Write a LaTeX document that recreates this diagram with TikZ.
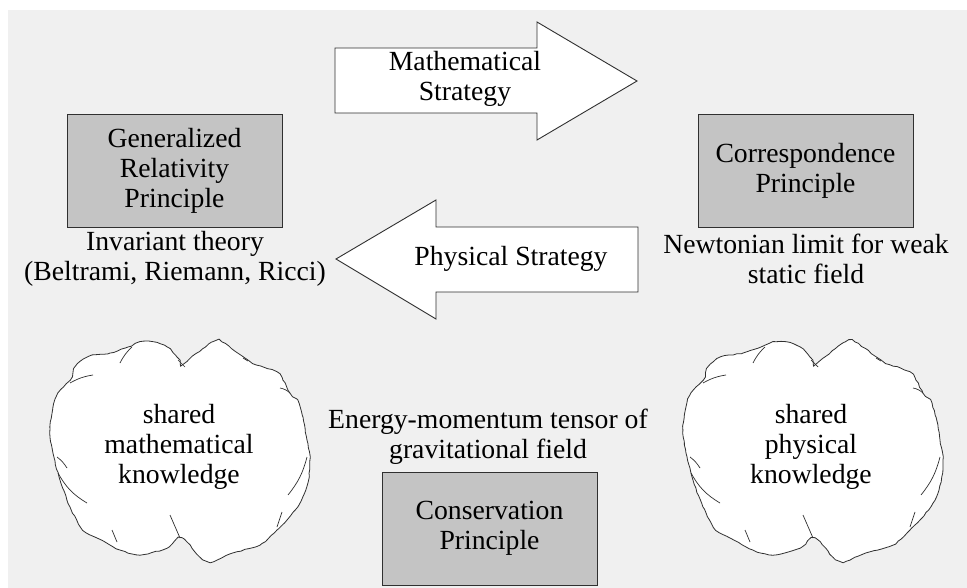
\documentclass[tikz,border=0pt]{standalone}
\usepackage{fontspec}
\setmainfont{Liberation Serif}
\usetikzlibrary{decorations.pathmorphing}
\definecolor{bg}{HTML}{F0F0F0}
\definecolor{boxgray}{HTML}{C4C4C4}
\definecolor{edge}{HTML}{303030}
\tikzset{
  txt/.style={font=\fontsize{27.7}{30}\selectfont, align=center, inner sep=0pt, text=black},
  principle/.style={txt, draw=edge, line width=0.9pt, fill=boxgray, minimum width=215pt, minimum height=113pt},
  bigarrow/.style={draw=edge, line width=0.9pt, fill=white, line join=miter},
  cloudline/.style={draw=edge, line width=0.8pt, line join=round},
  cloudtick/.style={draw=edge, line width=0.7pt},
  pics/cloud/.style={code={
    \path[cloudline, fill=white, decorate, decoration={random steps, segment length=4pt, amplitude=0.5pt}]
      plot[smooth cycle, tension=0.5] coordinates {
      (133,23) (162,2) (172,2) (195,18) (203,23) (227,32) (233,40) (240,53) (247,60) (253,77)
      (257,100) (260,117) (258,142) (250,163) (237,180) (227,190) (210,205) (183,213) (167,220)
      (160,222) (150,217) (132,198) (117,208) (90,215) (70,210) (47,198) (33,190) (20,167)
      (10,140) (3,113) (0,90) (3,67) (8,53) (20,40) (25,27) (38,17) (60,13) (78,7) (90,2)
      (103,2) (117,7) (127,17)};
    \draw[cloudtick] (70,23) to[bend left=10] (82,7);
    \draw[cloudtick] (20,43) to[bend left=10] (43,35);
    \draw[cloudtick] (128,20) -- (135,27);
    \draw[cloudtick] (193,18) -- (198,21);
    \draw[cloudtick] (230,48) to[bend left=15] (240,53);
    \draw[cloudtick] (257,117) to[bend left=12] (238,155);
    \draw[cloudtick] (232,172) -- (227,187);
    \draw[cloudtick] (7,117) to[bend left=10] (17,128);
    \draw[cloudtick] (8,133) to[bend right=15] (37,163);
    \draw[cloudtick] (62,190) -- (67,202);
    \draw[cloudtick] (120,175) -- (130,198);
  }}
}
\begin{document}
\begin{tikzpicture}[x=1pt, y=-1pt]
\useasboundingbox (0,0) rectangle (967,588);
\fill[bg] (8,10) rectangle (967,588);

% Mathematical strategy arrow (pointing right)
\path[bigarrow] (335,48) -- (537,48) -- (537,22) -- (637,81) -- (537,140) -- (537,113) -- (335,113) -- cycle;
\node[txt] (math) at (465,79) {Mathematical\\Strategy};

% Physical strategy arrow (pointing left)
\path[bigarrow] (638,227) -- (436,227) -- (436,200) -- (336,259) -- (436,319) -- (436,292) -- (638,292) -- cycle;
\node[txt] (phys) at (511,259) {Physical Strategy};

% principle boxes
\node[principle] (grp) at (174.5,170.5) {Generalized\\Relativity\\Principle};
\node[principle] (cp) at (805.5,170.5) {Correspondence\\Principle};
\node[principle] (cons) at (489.5,528.5) {Conservation\\Principle};

% labels
\node[txt] (inv) at (175,259) {Invariant theory\\(Beltrami, Riemann, Ricci)};
\node[txt] (newt) at (806,259) {Newtonian limit for weak\\static field};
\node[txt] (energy) at (488,437) {Energy-momentum tensor of\\gravitational field};

% clouds
\pic at (50,340) {cloud};
\pic at (683,340) {cloud};
\node[txt] (mathk) at (179,447) {shared\\mathematical\\knowledge};
\node[txt] (physk) at (811,447) {shared\\physical\\knowledge};
\end{tikzpicture}
\end{document}
